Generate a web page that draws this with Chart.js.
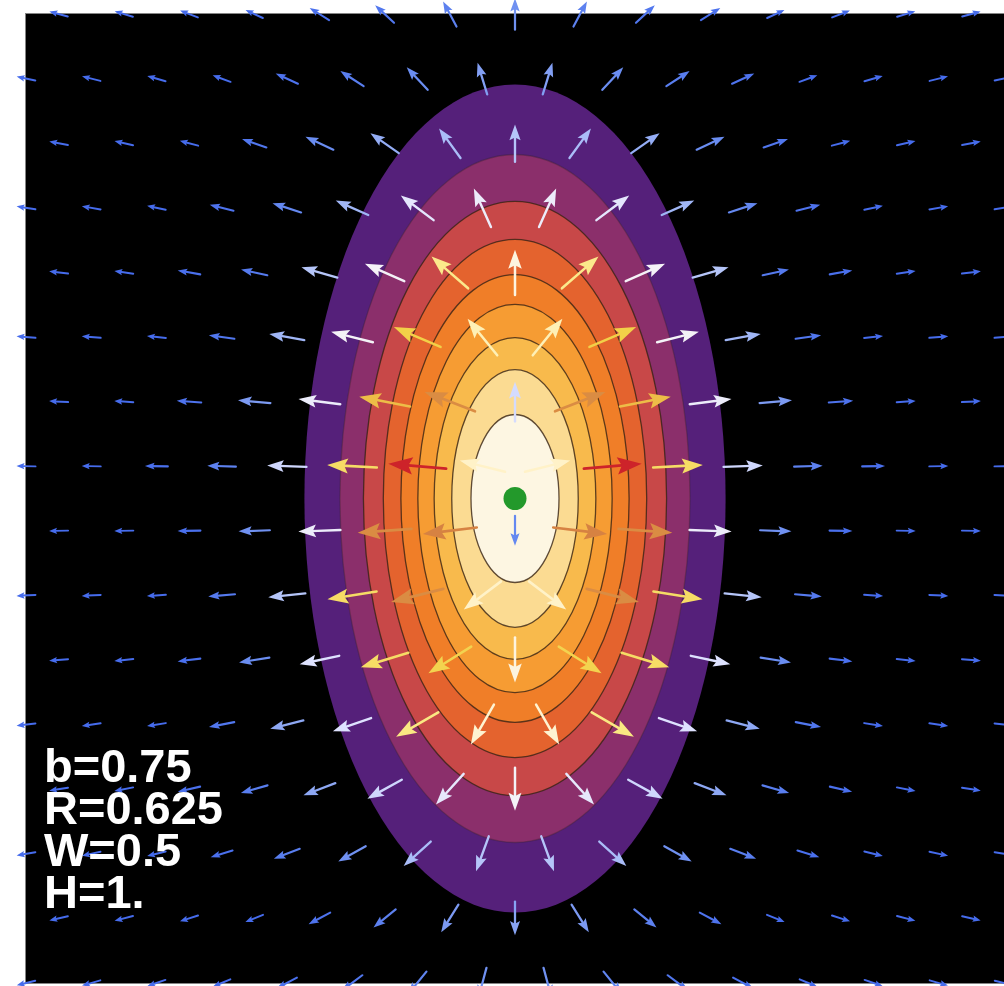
<!DOCTYPE html>
<html>
<head>
<meta charset="utf-8">
<script src="https://cdn.jsdelivr.net/npm/chart.js@4.4.1/dist/chart.umd.min.js"></script>
<style>
    html, body { margin: 0; padding: 0; background: #fff; }
    #wrap { width: 1004px; height: 986px; }
</style>
</head>
<body>
<div id="wrap"><canvas id="field-chart" width="1004" height="986"></canvas></div>
<script>
// contour bands, outermost first (semi-axes in plot units)
const contourSemiX = [0.646, 0.537, 0.465, 0.404, 0.350, 0.298, 0.248, 0.194, 0.135];
const contourSemiY = [1.282, 1.065, 0.920, 0.802, 0.693, 0.601, 0.498, 0.399, 0.260];
const bandColors = ['#55207a', '#8b2f6b', '#c84848', '#e4632e', '#f07e28', '#f69c33', '#f8ba4c', '#fbdb92', '#fdf6e2'];

// arrow grid: rows top to bottom, even rows use colXEven, odd rows colXOdd
const rowY = [1.5, 1.3, 1.1, 0.9, 0.7, 0.5, 0.3, 0.1, -0.1, -0.3, -0.5, -0.7, -0.9, -1.1, -1.3, -1.5];
const colXEven = [0, 0.2, 0.4, 0.6, 0.8, 1.0, 1.2, 1.4];
const colXOdd = [0.1, 0.3, 0.5, 0.7, 0.9, 1.1, 1.3, 1.5];

// arrow direction in degrees, right half only (left half is mirrored)
const arrowAngle = [
    [90, 62, 43, 32, 25, 21, 17, 15],
    [73, 47, 33, 25, 20, 16, 14, 12],
    [90, 54, 35, 25, 19, 15, 13, 11],
    [66, 37, 24, 18, 14, 12, 10, 9],
    [90, 41, 24, 16, 12, 10, 8, 7],
    [51, 23, 14, 10, 8, 6, 5, 5],
    [90, 21, 11, 7, 5, 4, 4, 3],
    [14, 5, 3, 2, 2, 1, 1, 1],
    [-90, -7, -4, -2, -2, -1, -1, -1],
    [-37, -14, -9, -6, -5, -4, -3, -3],
    [-90, -32, -17, -12, -9, -7, -6, -5],
    [-60, -30, -19, -14, -11, -9, -8, -7],
    [-90, -48, -29, -21, -16, -13, -11, -9],
    [-70, -42, -29, -21, -17, -14, -12, -10],
    [-90, -58, -39, -28, -22, -18, -15, -13],
    [-75, -51, -37, -28, -23, -19, -16, -14]
];

// arrow strength 0..1
const arrowLevel = [
    [0.10, 0.06, 0.03, 0.01, 0, 0, 0, 0],
    [0.13, 0.09, 0.05, 0.02, 0, 0, 0, 0],
    [0.22, 0.20, 0.16, 0.09, 0.03, 0, 0, 0],
    [0.35, 0.32, 0.18, 0.08, 0.02, 0, 0, 0],
    [0.45, 0.57, 0.38, 0.22, 0.04, 0.01, 0, 0],
    [0.52, 0.66, 0.38, 0.18, 0.03, 0, 0, 0],
    [0.28, 0.80, 0.70, 0.35, 0.12, 0.02, 0, 0],
    [0.50, 1.00, 0.62, 0.27, 0.06, 0.01, 0, 0],
    [0.08, 0.82, 0.80, 0.35, 0.10, 0.01, 0, 0],
    [0.50, 0.80, 0.62, 0.22, 0.04, 0, 0, 0],
    [0.45, 0.65, 0.62, 0.30, 0.09, 0.01, 0, 0],
    [0.48, 0.58, 0.30, 0.15, 0.03, 0, 0, 0],
    [0.38, 0.33, 0.27, 0.15, 0.05, 0.01, 0, 0],
    [0.22, 0.20, 0.10, 0.05, 0.01, 0, 0, 0],
    [0.14, 0.12, 0.06, 0.02, 0, 0, 0, 0],
    [0.10, 0.07, 0.03, 0.01, 0, 0, 0, 0]
];

const sourcePoint = [{ x: 0, y: 0 }];
const paramLabels = ['b=0.75', 'R=0.625', 'W=0.5', 'H=1.'];

// colour ramp for arrows: blue -> white -> yellow -> red
const levelStops = [
    [0.00, [70, 108, 236]],
    [0.08, [100, 136, 240]],
    [0.18, [160, 182, 246]],
    [0.30, [222, 226, 255]],
    [0.40, [250, 246, 245]],
    [0.50, [255, 242, 200]],
    [0.58, [250, 232, 130]],
    [0.66, [242, 208, 72]],
    [0.74, [232, 170, 70]],
    [0.82, [214, 130, 66]],
    [1.00, [205, 35, 42]]
];

function levelColor(v) {
    for (let i = 1; i < levelStops.length; i++) {
        const [t1, c1] = levelStops[i];
        if (v <= t1) {
            const [t0, c0] = levelStops[i - 1];
            const f = (v - t0) / (t1 - t0);
            const c = c0.map((ch, k) => Math.round(ch + (c1[k] - ch) * f));
            return `rgb(${c[0]},${c[1]},${c[2]})`;
        }
    }
    const last = levelStops[levelStops.length - 1][1];
    return `rgb(${last[0]},${last[1]},${last[2]})`;
}

// build arrow table from the right half and its mirror
const fieldPoints = [];
rowY.forEach((y, r) => {
    const cols = r % 2 === 0 ? colXEven : colXOdd;
    cols.forEach((x, j) => {
        const a = arrowAngle[r][j], l = arrowLevel[r][j];
        fieldPoints.push({ x: x, y: y, a: a, l: l });
        if (x !== 0) fieldPoints.push({ x: -x, y: y, a: 180 - a, l: l });
    });
});

const backdropPlugin = {
    id: 'backdrop',
    beforeDraw(chart) {
        const { ctx, chartArea: a } = chart;
        ctx.save();
        ctx.fillStyle = '#fff';
        ctx.fillRect(0, 0, chart.width, chart.height);
        ctx.fillStyle = '#000';
        ctx.fillRect(a.left, a.top, a.right - a.left, a.bottom - a.top);
        ctx.strokeStyle = 'rgba(120,120,120,0.9)';
        ctx.lineWidth = 1;
        ctx.strokeRect(a.left - 0.5, a.top - 0.5, a.right - a.left + 1, a.bottom - a.top + 1);
        ctx.restore();
    }
};

const contourPlugin = {
    id: 'contours',
    beforeDatasetsDraw(chart) {
        const { ctx, chartArea: a } = chart;
        const xs = chart.scales.x, ys = chart.scales.y;
        const cx = xs.getPixelForValue(0), cy = ys.getPixelForValue(0);
        ctx.save();
        ctx.beginPath();
        ctx.rect(a.left, a.top, a.right - a.left, a.bottom - a.top);
        ctx.clip();
        contourSemiX.forEach((sx, i) => {
            const rx = xs.getPixelForValue(sx) - cx;
            const ry = cy - ys.getPixelForValue(contourSemiY[i]);
            ctx.beginPath();
            ctx.ellipse(cx, cy, rx, ry, 0, 0, Math.PI * 2);
            ctx.fillStyle = bandColors[i];
            ctx.fill();
        });
        ctx.lineWidth = 1.3;
        contourSemiX.forEach((sx, i) => {
            if (i === 0) return;
            const rx = xs.getPixelForValue(sx) - cx;
            const ry = cy - ys.getPixelForValue(contourSemiY[i]);
            ctx.strokeStyle = i === 1 ? 'rgba(55,35,40,0.35)' : 'rgba(55,35,20,0.8)';
            ctx.beginPath();
            ctx.ellipse(cx, cy, rx, ry, 0, 0, Math.PI * 2);
            ctx.stroke();
        });
        ctx.restore();
    }
};

function drawArrow(ctx, px, py, angDeg, level) {
    const len = 19 + 39 * Math.sqrt(level);
    const head = len * 0.42;
    const half = Math.max(3.2, len * 0.15);
    ctx.save();
    ctx.translate(px, py);
    ctx.rotate(-angDeg * Math.PI / 180);
    const col = levelColor(level);
    ctx.strokeStyle = col;
    ctx.fillStyle = col;
    ctx.lineWidth = 1.6 + len * 0.02;
    ctx.lineCap = 'round';
    ctx.beginPath();
    ctx.moveTo(-len / 2, 0);
    ctx.lineTo(len / 2 - head * 0.7, 0);
    ctx.stroke();
    ctx.beginPath();
    ctx.moveTo(len / 2, 0);
    ctx.lineTo(len / 2 - head, -half);
    ctx.lineTo(len / 2 - head * 0.82, 0);
    ctx.lineTo(len / 2 - head, half);
    ctx.closePath();
    ctx.fill();
    ctx.restore();
}

const arrowPlugin = {
    id: 'arrows',
    afterDatasetsDraw(chart) {
        const { ctx } = chart;
        const idx = chart.data.datasets.findIndex(d => d.label === 'field');
        const meta = chart.getDatasetMeta(idx);
        const pts = chart.data.datasets[idx].data;
        meta.data.forEach((el, i) => {
            drawArrow(ctx, el.x, el.y, pts[i].a, pts[i].l);
        });
    }
};

const labelPlugin = {
    id: 'paramLabels',
    afterDraw(chart) {
        const { ctx, chartArea: a } = chart;
        ctx.save();
        ctx.fillStyle = '#fff';
        ctx.font = 'bold 47px "Liberation Sans", Arial, sans-serif';
        ctx.textBaseline = 'alphabetic';
        paramLabels.forEach((t, i) => {
            ctx.fillText(t, a.left + 18, a.top + 768 + i * 42);
        });
        ctx.restore();
    }
};

new Chart(document.getElementById('field-chart'), {
    type: 'scatter',
    data: {
        datasets: [
            {
                label: 'source',
                data: sourcePoint,
                pointRadius: 11.5,
                pointBackgroundColor: '#23992b',
                pointBorderWidth: 0,
                order: 0
            },
            {
                label: 'field',
                data: fieldPoints,
                pointRadius: 0,
                order: 1
            }
        ]
    },
    options: {
        responsive: false,
        devicePixelRatio: 1,
        animation: false,
        layout: { autoPadding: false, padding: { left: 26, top: 14, right: 0, bottom: 3 } },
        plugins: {
            legend: { display: false },
            tooltip: { enabled: false }
        },
        scales: {
            x: { type: 'linear', min: -1.5, max: 1.5, display: false },
            y: { type: 'linear', min: -1.5, max: 1.5, display: false }
        }
    },
    plugins: [backdropPlugin, contourPlugin, arrowPlugin, labelPlugin]
});
</script>
</body>
</html>
